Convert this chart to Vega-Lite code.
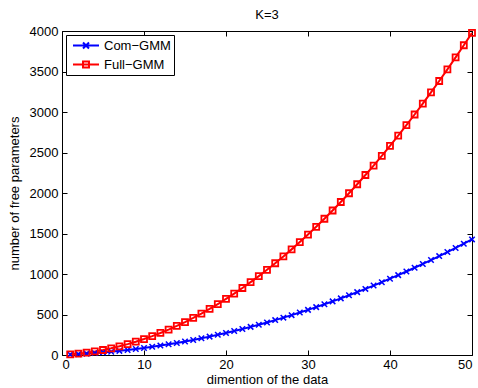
{
  "$schema": "https://vega.github.io/schema/vega-lite/v6.json",
  "width": 410,
  "height": 324,
  "autosize": {"type": "none"},
  "padding": {"left": 62, "top": 31, "right": 6, "bottom": 33},
  "background": "white",
  "title": {"text": "K=3", "fontSize": 13, "fontWeight": "normal", "font": "Liberation Sans", "color": "black", "offset": 3},
  "config": {
    "view": {"stroke": "black", "strokeWidth": 1},
    "font": "Liberation Sans",
    "axis": {
      "grid": false,
      "domain": false,
      "ticks": true,
      "offset": -5,
      "tickColor": "black",
      "tickSize": 5,
      "tickWidth": 1,
      "tickOpacity": 1,
      "labelFont": "Liberation Sans",
      "labelFontSize": 13,
      "labelColor": "black",
      "titleFont": "Liberation Sans",
      "titleFontSize": 13,
      "titleFontWeight": "normal",
      "titleColor": "black"
    },
    "legend": {
      "strokeColor": "black",
      "fillColor": "white",
      "padding": 3,
      "labelFont": "Liberation Sans",
      "labelFontSize": 13,
      "labelColor": "black",
      "symbolStrokeWidth": 2,
      "symbolOffset": 3,
      "labelOffset": 17,
      "rowPadding": 4
    }
  },
  "data": {"values": [
    {"d":1,"series":"Com−GMM","value":6},{"d":2,"series":"Com−GMM","value":11},{"d":3,"series":"Com−GMM","value":17},{"d":4,"series":"Com−GMM","value":24},{"d":5,"series":"Com−GMM","value":32},
    {"d":6,"series":"Com−GMM","value":41},{"d":7,"series":"Com−GMM","value":51},{"d":8,"series":"Com−GMM","value":62},{"d":9,"series":"Com−GMM","value":74},{"d":10,"series":"Com−GMM","value":87},
    {"d":11,"series":"Com−GMM","value":101},{"d":12,"series":"Com−GMM","value":116},{"d":13,"series":"Com−GMM","value":132},{"d":14,"series":"Com−GMM","value":149},{"d":15,"series":"Com−GMM","value":167},
    {"d":16,"series":"Com−GMM","value":186},{"d":17,"series":"Com−GMM","value":206},{"d":18,"series":"Com−GMM","value":227},{"d":19,"series":"Com−GMM","value":249},{"d":20,"series":"Com−GMM","value":272},
    {"d":21,"series":"Com−GMM","value":296},{"d":22,"series":"Com−GMM","value":321},{"d":23,"series":"Com−GMM","value":347},{"d":24,"series":"Com−GMM","value":374},{"d":25,"series":"Com−GMM","value":402},
    {"d":26,"series":"Com−GMM","value":431},{"d":27,"series":"Com−GMM","value":461},{"d":28,"series":"Com−GMM","value":492},{"d":29,"series":"Com−GMM","value":524},{"d":30,"series":"Com−GMM","value":557},
    {"d":31,"series":"Com−GMM","value":591},{"d":32,"series":"Com−GMM","value":626},{"d":33,"series":"Com−GMM","value":662},{"d":34,"series":"Com−GMM","value":699},{"d":35,"series":"Com−GMM","value":737},
    {"d":36,"series":"Com−GMM","value":776},{"d":37,"series":"Com−GMM","value":816},{"d":38,"series":"Com−GMM","value":857},{"d":39,"series":"Com−GMM","value":899},{"d":40,"series":"Com−GMM","value":942},
    {"d":41,"series":"Com−GMM","value":986},{"d":42,"series":"Com−GMM","value":1031},{"d":43,"series":"Com−GMM","value":1077},{"d":44,"series":"Com−GMM","value":1124},{"d":45,"series":"Com−GMM","value":1172},
    {"d":46,"series":"Com−GMM","value":1221},{"d":47,"series":"Com−GMM","value":1271},{"d":48,"series":"Com−GMM","value":1322},{"d":49,"series":"Com−GMM","value":1374},{"d":50,"series":"Com−GMM","value":1427},
    {"d":1,"series":"Full−GMM","value":8},{"d":2,"series":"Full−GMM","value":17},{"d":3,"series":"Full−GMM","value":29},{"d":4,"series":"Full−GMM","value":44},{"d":5,"series":"Full−GMM","value":62},
    {"d":6,"series":"Full−GMM","value":83},{"d":7,"series":"Full−GMM","value":107},{"d":8,"series":"Full−GMM","value":134},{"d":9,"series":"Full−GMM","value":164},{"d":10,"series":"Full−GMM","value":197},
    {"d":11,"series":"Full−GMM","value":233},{"d":12,"series":"Full−GMM","value":272},{"d":13,"series":"Full−GMM","value":314},{"d":14,"series":"Full−GMM","value":359},{"d":15,"series":"Full−GMM","value":407},
    {"d":16,"series":"Full−GMM","value":458},{"d":17,"series":"Full−GMM","value":512},{"d":18,"series":"Full−GMM","value":569},{"d":19,"series":"Full−GMM","value":629},{"d":20,"series":"Full−GMM","value":692},
    {"d":21,"series":"Full−GMM","value":758},{"d":22,"series":"Full−GMM","value":827},{"d":23,"series":"Full−GMM","value":899},{"d":24,"series":"Full−GMM","value":974},{"d":25,"series":"Full−GMM","value":1052},
    {"d":26,"series":"Full−GMM","value":1133},{"d":27,"series":"Full−GMM","value":1217},{"d":28,"series":"Full−GMM","value":1304},{"d":29,"series":"Full−GMM","value":1394},{"d":30,"series":"Full−GMM","value":1487},
    {"d":31,"series":"Full−GMM","value":1583},{"d":32,"series":"Full−GMM","value":1682},{"d":33,"series":"Full−GMM","value":1784},{"d":34,"series":"Full−GMM","value":1889},{"d":35,"series":"Full−GMM","value":1997},
    {"d":36,"series":"Full−GMM","value":2108},{"d":37,"series":"Full−GMM","value":2222},{"d":38,"series":"Full−GMM","value":2339},{"d":39,"series":"Full−GMM","value":2459},{"d":40,"series":"Full−GMM","value":2582},
    {"d":41,"series":"Full−GMM","value":2708},{"d":42,"series":"Full−GMM","value":2837},{"d":43,"series":"Full−GMM","value":2969},{"d":44,"series":"Full−GMM","value":3104},{"d":45,"series":"Full−GMM","value":3242},
    {"d":46,"series":"Full−GMM","value":3383},{"d":47,"series":"Full−GMM","value":3527},{"d":48,"series":"Full−GMM","value":3674},{"d":49,"series":"Full−GMM","value":3824},{"d":50,"series":"Full−GMM","value":3977}
  ]},
  "layer": [
    {
      "mark": {"type": "line", "strokeWidth": 2},
      "encoding": {
        "x": {"field": "d", "type": "quantitative", "scale": {"domain": [0, 50], "nice": false, "zero": false},
              "axis": {"orient": "bottom", "values": [0,10,20,30,40,50], "format": "d", "title": "dimention of the data", "labelPadding": 3, "titlePadding": 2}},
        "y": {"field": "value", "type": "quantitative", "scale": {"domain": [0, 4000], "nice": false},
              "axis": {"orient": "left", "values": [0,500,1000,1500,2000,2500,3000,3500,4000], "format": "d", "title": "number of free parameters", "labelPadding": 4, "titlePadding": 8}},
        "color": {"field": "series", "type": "nominal", "scale": {"domain": ["Com−GMM", "Full−GMM"], "range": ["#0000ff", "#ff0000"]},
                  "legend": {"orient": "top-left", "offset": 4, "title": null, "symbolSize": 169,
                             "encode": {"symbols": {"update": {
                               "shape": {"signal": "datum.value === 'Com−GMM' ? 'M-1,0H3M0.54,-0.46L1.46,0.46M0.54,0.46L1.46,-0.46' : 'M-1,0H3M0.54,-0.46H1.46V0.46H0.54Z'"},
                               "strokeWidth": {"value": 2},
                               "fill": {"value": "transparent"}
                             }}}}}
      }
    },
    {
      "transform": [{"filter": "datum.series === 'Com−GMM'"}],
      "mark": {"type": "point", "shape": "M-1,-1L1,1M-1,1L1,-1", "size": 30, "filled": false, "strokeWidth": 1.5, "color": "#0000ff", "opacity": 1},
      "encoding": {
        "x": {"field": "d", "type": "quantitative",
              "axis": {"orient": "top", "values": [0,10,20,30,40,50], "labels": false, "title": null}},
        "y": {"field": "value", "type": "quantitative",
              "axis": {"orient": "right", "values": [0,500,1000,1500,2000,2500,3000,3500,4000], "labels": false, "title": null}}
      }
    },
    {
      "transform": [{"filter": "datum.series === 'Full−GMM'"}],
      "mark": {"type": "point", "shape": "square", "size": 36, "filled": false, "strokeWidth": 1.8, "color": "#ff0000", "opacity": 1},
      "encoding": {
        "x": {"field": "d", "type": "quantitative", "axis": null},
        "y": {"field": "value", "type": "quantitative", "axis": null}
      }
    }
  ],
  "resolve": {"axis": {"x": "independent", "y": "independent"}}
}
